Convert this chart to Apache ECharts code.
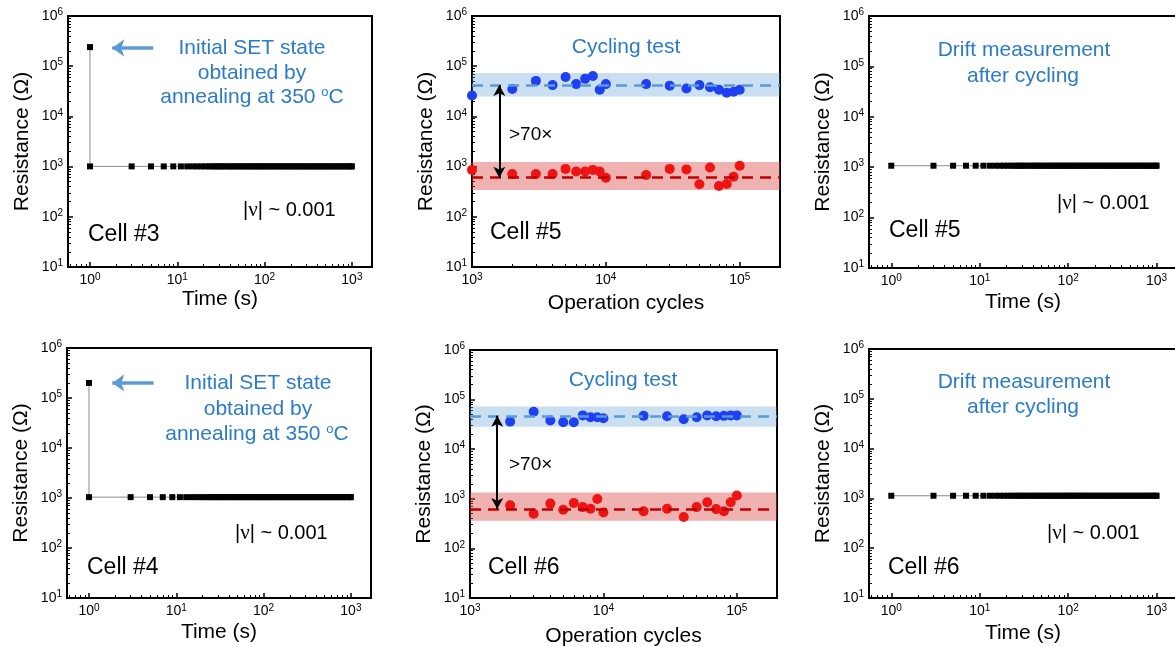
<!DOCTYPE html>
<html>
<head>
<meta charset="utf-8">
<script src="https://cdn.jsdelivr.net/npm/echarts@6.0.0/dist/echarts.min.js"></script>
<style>
  html, body { margin: 0; padding: 0; background: #fff; }
  #main { width: 1175px; height: 647px; }
</style>
</head>
<body>
<div id="main"></div>
<script>
var FONT = '"Liberation Sans", Arial, sans-serif';
var BLUE_TXT = '#2b7bc9';

// drift measurement: time points (s)
var driftTime = [1, 3, 5, 7, 9, 11, 13, 15, 17, 19, 21, 23, 25,
    27, 29, 31, 33, 36, 39, 42, 45, 48, 52, 56, 60, 64,
    69, 74, 79, 85, 91, 97, 104, 111, 119, 127, 136, 146, 156,
    167, 179, 192, 205, 220, 235, 252, 270, 289, 309, 331, 354, 379,
    406, 434, 465, 497, 532, 569, 609, 652, 698, 747, 799, 855, 915, 979, 1000];

// initial SET state after annealing (first point at t = 1 s)
var initCell3 = 2.4e5;
var initCell4 = 2.0e5;

// resistance (ohm) during drift, one value per driftTime
var resCell3 = [1010, 1010, 1010, 1010, 1010, 1010, 1010, 1010, 1010, 1010, 1010, 1010, 1010,
    1010, 1010, 1010, 1010, 1010, 1010, 1010, 1010, 1010, 1010, 1010, 1010, 1010,
    1010, 1010, 1010, 1010, 1010, 1010, 1010, 1010, 1010, 1010, 1010, 1010, 1010,
    1010, 1010, 1010, 1010, 1010, 1010, 1010, 1010, 1010, 1010, 1010, 1010, 1010,
    1010, 1010, 1010, 1010, 1010, 1010, 1010, 1010, 1010, 1010, 1010, 1010, 1010, 1010, 1010];
var resCell4 = [1040, 1040, 1040, 1040, 1040, 1040, 1040, 1040, 1040, 1040, 1040, 1040, 1040,
    1040, 1040, 1040, 1040, 1040, 1040, 1040, 1040, 1040, 1040, 1040, 1040, 1040,
    1040, 1040, 1040, 1040, 1040, 1040, 1040, 1040, 1040, 1040, 1040, 1040, 1040,
    1040, 1040, 1040, 1040, 1040, 1040, 1040, 1040, 1040, 1040, 1040, 1040, 1040,
    1040, 1040, 1040, 1040, 1040, 1040, 1040, 1040, 1040, 1040, 1040, 1040, 1040, 1040, 1040];
var resDrift5 = [1070, 1070, 1070, 1070, 1070, 1070, 1070, 1070, 1070, 1070, 1070, 1070, 1070,
    1070, 1070, 1070, 1070, 1070, 1070, 1070, 1070, 1070, 1070, 1070, 1070, 1070,
    1070, 1070, 1070, 1070, 1070, 1070, 1070, 1070, 1070, 1070, 1070, 1070, 1070,
    1070, 1070, 1070, 1070, 1070, 1070, 1070, 1070, 1070, 1070, 1070, 1070, 1070,
    1070, 1070, 1070, 1070, 1070, 1070, 1070, 1070, 1070, 1070, 1070, 1070, 1070, 1070, 1070];
var resDrift6 = [1130, 1130, 1130, 1130, 1130, 1130, 1130, 1130, 1130, 1130, 1130, 1130, 1130,
    1130, 1130, 1130, 1130, 1130, 1130, 1130, 1130, 1130, 1130, 1130, 1130, 1130,
    1130, 1130, 1130, 1130, 1130, 1130, 1130, 1130, 1130, 1130, 1130, 1130, 1130,
    1130, 1130, 1130, 1130, 1130, 1130, 1130, 1130, 1130, 1130, 1130, 1130, 1130,
    1130, 1130, 1130, 1130, 1130, 1130, 1130, 1130, 1130, 1130, 1130, 1130, 1130, 1130, 1130];

// cycling test
var cyclesCell5 = [1000, 2000, 3000, 4000, 5000, 6000, 7000, 8000, 9000, 10000,
    20000, 30000, 40000, 50000, 60000, 70000, 80000, 90000, 100000];
var hrsCell5 = [2.6e4, 3.5e4, 5.1e4, 4.2e4, 6.1e4, 4.4e4, 5.6e4, 6.4e4, 3.4e4, 4.4e4,
    4.4e4, 4.1e4, 3.6e4, 4.2e4, 3.8e4, 3.4e4, 2.95e4, 3.1e4, 3.4e4];
var lrsCell5 = [860, 710, 710, 710, 900, 800, 800, 860, 800, 600,
    680, 900, 880, 445, 960, 410, 450, 630, 1040];

var cyclesCell6 = [2000, 3000, 4000, 5000, 6000, 7000, 8000, 9000, 10000,
    20000, 30000, 40000, 50000, 60000, 70000, 80000, 90000, 100000];
var hrsCell6 = [3.6e4, 5.7e4, 3.8e4, 3.5e4, 3.5e4, 4.8e4, 4.4e4, 4.4e4, 4.2e4,
    4.7e4, 4.6e4, 4.0e4, 4.4e4, 4.8e4, 4.6e4, 4.7e4, 4.8e4, 4.8e4];
var lrsCell6 = [740, 500, 800, 600, 820, 680, 630, 990, 530,
    560, 630, 430, 680, 850, 620, 560, 850, 1170];

// guide levels: [band low, dashed mean, band high]
var hrsBand5 = [2.5e4, 4.2e4, 7.3e4];
var lrsBand5 = [340, 600, 1240];
var hrsBand6 = [2.85e4, 4.7e4, 7.3e4];
var lrsBand6 = [360, 620, 1340];

// axis ranges
var resRange = [10, 1e6];
var timeRange = [0.56, 1700];
var cycleRange = [1000, 200000];

var myChart = echarts.init(document.getElementById('main'), null, {renderer: 'canvas'});

function zip(xs, ys) {
    var out = [];
    for (var i = 0; i < xs.length; i++) out.push([xs[i], ys[i]]);
    return out;
}

function powLabel(v) {
    var e = Math.round(Math.log(v) / Math.LN10);
    if (Math.abs(v / Math.pow(10, e) - 1) > 1e-6) return '';
    return '{b|10}{s|' + e + '}';
}

// minor ticks at 2..9 x 10^n inside the axis range
function minorTicks(min, max) {
    var out = [];
    var e0 = Math.floor(Math.log(min) / Math.LN10), e1 = Math.ceil(Math.log(max) / Math.LN10);
    for (var e = e0; e <= e1; e++) {
        for (var k = 2; k <= 9; k++) {
            var v = k * Math.pow(10, e);
            if (v > min && v < max) out.push(v);
        }
    }
    return out;
}

var tickRich = {
    b: {fontSize: 14, fontFamily: FONT, color: '#000'},
    s: {fontSize: 10, fontFamily: FONT, color: '#000', padding: [0, 0, 7, 0]}
};
var nameStyle = {fontSize: 21, fontFamily: FONT, color: '#000'};

var grids = [
    {left: 68, top: 16, width: 304, height: 251},
    {left: 472, top: 16, width: 308, height: 251},
    {left: 869, top: 16, width: 308, height: 252},
    {left: 67, top: 348, width: 304, height: 250},
    {left: 470, top: 350, width: 307, height: 248},
    {left: 869, top: 349, width: 308, height: 249}
];

var option = {
    animation: false,
    backgroundColor: '#fff',
    grid: [],
    xAxis: [],
    yAxis: [],
    series: [],
    graphic: []
};

for (var g = 0; g < grids.length; g++) {
    var gr = grids[g];
    option.grid.push({
        left: gr.left, top: gr.top, width: gr.width, height: gr.height,
        show: true, borderColor: '#000', borderWidth: 2, backgroundColor: 'transparent',
        containLabel: false, outerBoundsMode: 'none'
    });
}

function addAxes(i, xRange, xName, xGap) {
    option.xAxis.push({
        type: 'log', logBase: 10, gridIndex: i, position: 'bottom',
        min: xRange[0], max: xRange[1],
        name: xName, nameLocation: 'middle', nameGap: xGap, nameTextStyle: nameStyle,
        axisLine: {lineStyle: {color: '#000', width: 2}},
        axisTick: {inside: true, length: 5, lineStyle: {color: '#000', width: 1.5}},
        axisLabel: {formatter: powLabel, rich: tickRich, margin: 5},
        splitLine: {show: false}
    });
    option.xAxis.push({
        type: 'log', logBase: 10, gridIndex: i, position: 'bottom',
        min: xRange[0], max: xRange[1],
        axisLine: {show: false}, axisLabel: {show: false}, splitLine: {show: false},
        axisTick: {inside: true, length: 3, customValues: minorTicks(xRange[0], xRange[1]),
            lineStyle: {color: '#000', width: 1}}
    });
    option.yAxis.push({
        type: 'log', logBase: 10, gridIndex: i, position: 'left',
        min: resRange[0], max: resRange[1],
        name: 'Resistance (Ω)', nameLocation: 'middle', nameGap: 35, nameTextStyle: nameStyle,
        axisLine: {lineStyle: {color: '#000', width: 2}},
        axisTick: {inside: true, length: 5, lineStyle: {color: '#000', width: 1.5}},
        axisLabel: {formatter: powLabel, rich: tickRich, margin: 5},
        splitLine: {show: false}
    });
    option.yAxis.push({
        type: 'log', logBase: 10, gridIndex: i, position: 'left',
        min: resRange[0], max: resRange[1],
        axisLine: {show: false}, axisLabel: {show: false}, splitLine: {show: false},
        axisTick: {inside: true, length: 3, customValues: minorTicks(resRange[0], resRange[1]),
            lineStyle: {color: '#000', width: 1}}
    });
}

// drift panels (time axis)
function driftSeries(i, data, arrow) {
    var s = {
        type: 'line', xAxisIndex: 2 * i, yAxisIndex: 2 * i,
        data: data, symbol: 'rect', symbolSize: 6, showAllSymbol: true,
        itemStyle: {color: '#000', opacity: 1},
        lineStyle: {color: '#8a8a8a', width: 1},
        z: 3
    };
    if (arrow) {
        s.markLine = {
            silent: true, symbol: ['none', 'arrow'], symbolSize: [13, 12],
            label: {show: false},
            lineStyle: {color: '#5b9bd5', width: 3.5, type: 'solid'},
            data: [[{coord: arrow[0]}, {coord: arrow[1]}]]
        };
    }
    option.series.push(s);
}

// cycling panels
function cyclingSeries(i, cycles, hrs, lrs, hBand, lBand) {
    option.series.push({
        type: 'line', xAxisIndex: 2 * i, yAxisIndex: 2 * i, data: [],
        z: 1,
        markArea: {
            silent: true,
            data: [
                [{yAxis: hBand[2], itemStyle: {color: 'rgba(91,155,213,0.32)'}}, {yAxis: hBand[0]}],
                [{yAxis: lBand[2], itemStyle: {color: 'rgba(220,70,70,0.42)'}}, {yAxis: lBand[0]}]
            ]
        },
        markLine: {
            silent: true, symbol: 'none', label: {show: false},
            data: [
                {yAxis: hBand[1], lineStyle: {color: '#5b9bd5', width: 2.5, type: [11, 7]}},
                {yAxis: lBand[1], lineStyle: {color: '#c00000', width: 2.5, type: [11, 7]}},
                [
                    {coord: [1600, hBand[1]], symbol: 'arrow', symbolSize: [9, 11],
                        lineStyle: {color: '#000', width: 2, type: 'solid'}},
                    {coord: [1600, lBand[1]], symbol: 'arrow', symbolSize: [9, 11]}
                ]
            ]
        }
    });
    option.series.push({
        type: 'scatter', xAxisIndex: 2 * i, yAxisIndex: 2 * i,
        data: zip(cycles, hrs), symbolSize: 10,
        itemStyle: {color: '#1f3ff2', opacity: 1}, z: 4
    });
    option.series.push({
        type: 'scatter', xAxisIndex: 2 * i, yAxisIndex: 2 * i,
        data: zip(cycles, lrs), symbolSize: 10,
        itemStyle: {color: '#ee1414', opacity: 1}, z: 4
    });
}

addAxes(0, timeRange, 'Time (s)', 21);
addAxes(1, cycleRange, 'Operation cycles', 26);
addAxes(2, timeRange, 'Time (s)', 24);
addAxes(3, timeRange, 'Time (s)', 24);
addAxes(4, cycleRange, 'Operation cycles', 28);
addAxes(5, timeRange, 'Time (s)', 25);

driftSeries(0, [[1, initCell3]].concat(zip(driftTime, resCell3)), [[5.3, 2.3e5], [1.8, 2.3e5]]);
cyclingSeries(1, cyclesCell5, hrsCell5, lrsCell5, hrsBand5, lrsBand5);
driftSeries(2, zip(driftTime, resDrift5));
driftSeries(3, [[1, initCell4]].concat(zip(driftTime, resCell4)), [[5.5, 2.0e5], [1.85, 2.0e5]]);
cyclingSeries(4, cyclesCell6, hrsCell6, lrsCell6, hrsBand6, lrsBand6);
driftSeries(5, zip(driftTime, resDrift6));

// annotations
function txt(x, y, s, size, color, align) {
    return {
        type: 'text', x: x, y: y, z: 10, silent: true,
        style: {
            text: s, fill: color, fontSize: size, fontFamily: FONT,
            align: align, verticalAlign: 'middle',
            rich: {
                s: {fontSize: 13, fontFamily: FONT, fill: color, padding: [0, 0, 10, 0]},
                g: {fontSize: size + 1, fontFamily: '"Liberation Serif", serif', fill: color}
            }
        }
    };
}

var notes = [
    txt(252, 48, 'Initial SET state', 21, BLUE_TXT, 'center'),
    txt(252, 73, 'obtained by', 21, BLUE_TXT, 'center'),
    txt(252, 97, 'annealing at 350 {s|o}C', 21, BLUE_TXT, 'center'),
    txt(243, 210, '|{g|ν}| ~ 0.001', 20, '#000', 'left'),
    txt(88, 235, 'Cell #3', 23, '#000', 'left'),

    txt(626, 47, 'Cycling test', 21, BLUE_TXT, 'center'),
    txt(509, 135, '>70×', 19, '#000', 'left'),
    txt(490, 233, 'Cell #5', 23, '#000', 'left'),

    txt(1024, 50, 'Drift measurement', 21, BLUE_TXT, 'center'),
    txt(1023, 76, 'after cycling', 21, BLUE_TXT, 'center'),
    txt(1057, 203, '|{g|ν}| ~ 0.001', 20, '#000', 'left'),
    txt(889, 231, 'Cell #5', 23, '#000', 'left'),

    txt(258, 383, 'Initial SET state', 21, BLUE_TXT, 'center'),
    txt(258, 409, 'obtained by', 21, BLUE_TXT, 'center'),
    txt(257, 434, 'annealing at 350 {s|o}C', 21, BLUE_TXT, 'center'),
    txt(235, 533, '|{g|ν}| ~ 0.001', 20, '#000', 'left'),
    txt(87, 568, 'Cell #4', 23, '#000', 'left'),

    txt(623, 380, 'Cycling test', 21, BLUE_TXT, 'center'),
    txt(509, 465, '>70×', 19, '#000', 'left'),
    txt(488, 568, 'Cell #6', 23, '#000', 'left'),

    txt(1024, 382, 'Drift measurement', 21, BLUE_TXT, 'center'),
    txt(1023, 407, 'after cycling', 21, BLUE_TXT, 'center'),
    txt(1047, 533, '|{g|ν}| ~ 0.001', 20, '#000', 'left'),
    txt(888, 568, 'Cell #6', 23, '#000', 'left')
];
option.graphic = notes;

myChart.setOption(option);
</script>
</body>
</html>
